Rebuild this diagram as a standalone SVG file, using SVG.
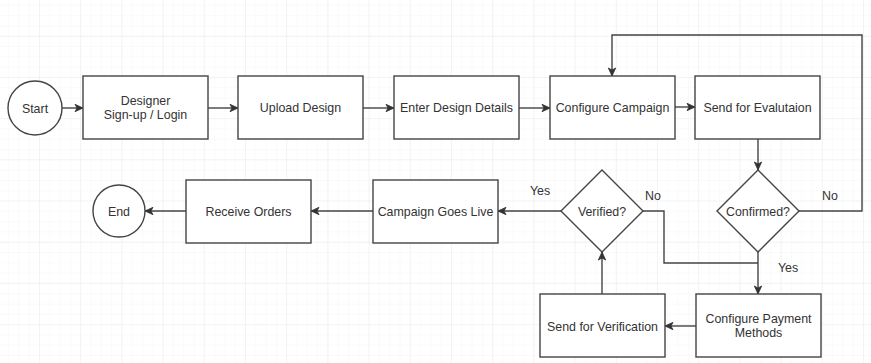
<svg xmlns="http://www.w3.org/2000/svg" width="871" height="363" viewBox="0 0 871 363">
<defs>
<pattern id="minor" x="-1.2" y="-4.5" width="10.3" height="10.3" patternUnits="userSpaceOnUse">
<path d="M10.3 0 V10.3 M0 10.3 H10.3" fill="none" stroke="#f5f5f5" stroke-width="1"/>
</pattern>
<pattern id="major" x="-1.2" y="-4.5" width="41.2" height="41.2" patternUnits="userSpaceOnUse">
<path d="M41.2 0 V41.2 M0 41.2 H41.2" fill="none" stroke="#ebebeb" stroke-width="1"/>
</pattern>
<marker id="arr" markerUnits="userSpaceOnUse" markerWidth="10" markerHeight="10" viewBox="0 0 10 10" refX="9" refY="5" orient="auto">
<path d="M1,1.3 L9,5 L1,8.7 L3,5 z" fill="#333" stroke="#333" stroke-width="0.8"/>
</marker>
<style>
.box{fill:#fff;stroke:#444;stroke-width:1.4}
.t{font-family:"Liberation Sans",Arial,sans-serif;font-size:12.4px;fill:#333;text-anchor:middle}
.c{fill:none;stroke:#444;stroke-width:1.4}
</style>
</defs>
<rect width="871" height="363" fill="#fff"/>
<rect width="871" height="363" fill="url(#minor)"/>
<rect width="871" height="363" fill="url(#major)"/>

<g id="connectors">
<path class="c" d="M62 108 H83" marker-end="url(#arr)"/>
<path class="c" d="M208 108 H238" marker-end="url(#arr)"/>
<path class="c" d="M363 108 H394" marker-end="url(#arr)"/>
<path class="c" d="M519 108 H550" marker-end="url(#arr)"/>
<path class="c" d="M675 107 H695" marker-end="url(#arr)"/>
<path class="c" d="M758 138 V170" marker-end="url(#arr)"/>
<path class="c" d="M799 211 H862 V35 H612 V76" marker-end="url(#arr)"/>
<path class="c" d="M758 252 V294" marker-end="url(#arr)"/>
<path class="c" d="M643 211 H664 V263 H758"/>
<path class="c" d="M696 326 H665" marker-end="url(#arr)"/>
<path class="c" d="M602 294 V252" marker-end="url(#arr)"/>
<path class="c" d="M561 211 H498" marker-end="url(#arr)"/>
<path class="c" d="M373 211 H311" marker-end="url(#arr)"/>
<path class="c" d="M186 211 H145" marker-end="url(#arr)"/>
<text class="t" x="540" y="195">Yes</text>
<text class="t" x="653" y="200">No</text>
<text class="t" x="830" y="200">No</text>
<text class="t" x="788" y="272">Yes</text>
</g>

<g id="start"><circle class="box" cx="35" cy="108" r="27"/><text class="t" x="35" y="112.5">Start</text></g>
<g id="signup"><rect class="box" x="83" y="76" width="125" height="63"/><text class="t" x="145.5" y="105">Designer</text><text class="t" x="145.5" y="119">Sign-up / Login</text></g>
<g id="upload"><rect class="box" x="238" y="76" width="125" height="63"/><text class="t" x="300.5" y="112">Upload Design</text></g>
<g id="enter"><rect class="box" x="394" y="76" width="125" height="63"/><text class="t" x="456.5" y="112">Enter Design Details</text></g>
<g id="configure"><rect class="box" x="550" y="76" width="125" height="63"/><text class="t" x="612.5" y="112">Configure Campaign</text></g>
<g id="evaluation"><rect class="box" x="695" y="76" width="125" height="63"/><text class="t" x="757.5" y="112">Send for Evalutaion</text></g>
<g id="confirmed"><path class="box" d="M758 170 L799 211 L758 252 L717 211 Z"/><text class="t" x="758" y="215.5">Confirmed?</text></g>
<g id="verified"><path class="box" d="M602 170 L643 211 L602 252 L561 211 Z"/><text class="t" x="602" y="215.5">Verified?</text></g>
<g id="payment"><rect class="box" x="696" y="294" width="125" height="63"/><text class="t" x="758.5" y="322.5">Configure Payment</text><text class="t" x="758.5" y="337">Methods</text></g>
<g id="verification"><rect class="box" x="540" y="294" width="125" height="63"/><text class="t" x="602.5" y="331">Send for Verification</text></g>
<g id="live"><rect class="box" x="373" y="180" width="125" height="63"/><text class="t" x="435.5" y="215.5">Campaign Goes Live</text></g>
<g id="orders"><rect class="box" x="186" y="180" width="125" height="63"/><text class="t" x="248.5" y="215.5">Receive Orders</text></g>
<g id="end"><circle class="box" cx="119" cy="211" r="26"/><text class="t" x="119" y="215.5">End</text></g>
</svg>
